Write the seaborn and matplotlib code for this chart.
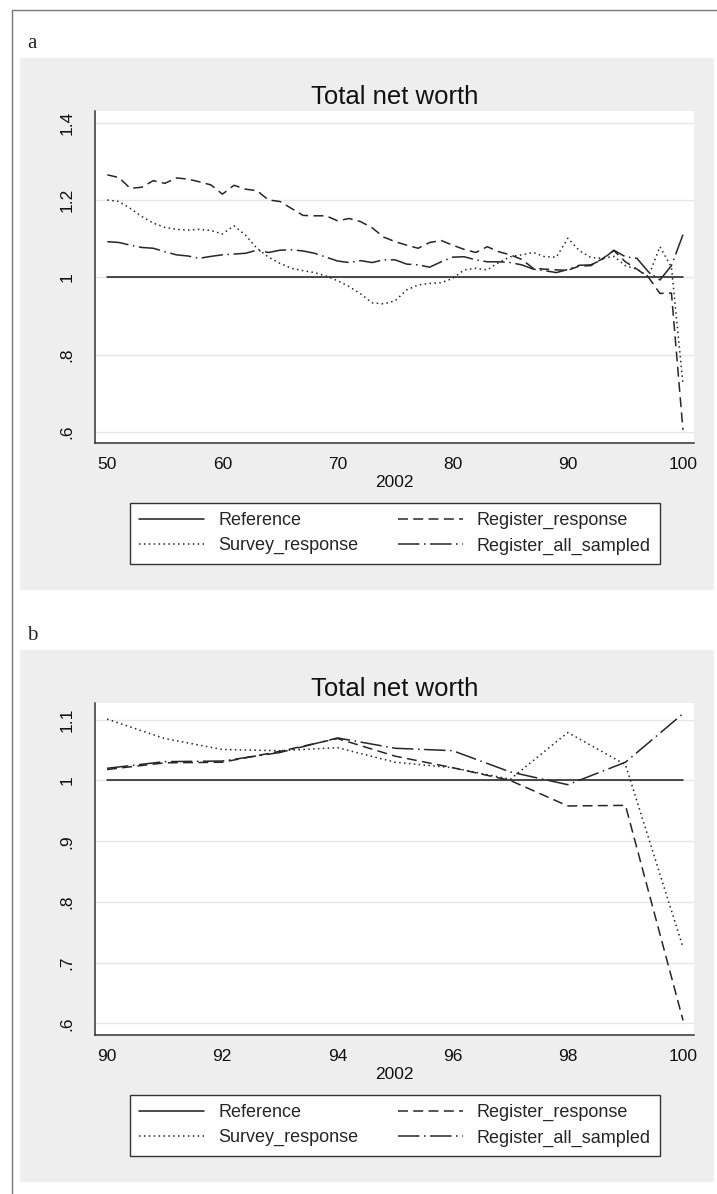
import matplotlib
matplotlib.use("Agg")
import matplotlib.pyplot as plt
from matplotlib.patches import Rectangle
from matplotlib.lines import Line2D
import pandas as pd
import seaborn as sns

# 数据
PERCENTILE = list(range(50, 101))

REGISTER_RESPONSE = [
    1.265, 1.258, 1.230, 1.233, 1.250, 1.243, 1.257, 1.254, 1.247, 1.239,
    1.215, 1.238, 1.228, 1.224, 1.200, 1.196, 1.178, 1.160, 1.159, 1.159,
    1.146, 1.152, 1.144, 1.128, 1.104, 1.092, 1.083, 1.075, 1.090, 1.095,
    1.083, 1.072, 1.064, 1.079, 1.066, 1.058, 1.046, 1.023, 1.021, 1.019,
    1.018, 1.029, 1.030, 1.048, 1.069, 1.040, 1.021, 1.000, 0.958, 0.959,
    0.605,
]
SURVEY_RESPONSE = [
    1.200, 1.196, 1.178, 1.157, 1.140, 1.129, 1.124, 1.122, 1.124, 1.121,
    1.112, 1.133, 1.109, 1.075, 1.052, 1.036, 1.023, 1.017, 1.012, 1.003,
    0.991, 0.976, 0.957, 0.934, 0.931, 0.939, 0.967, 0.980, 0.984, 0.986,
    0.997, 1.019, 1.023, 1.019, 1.038, 1.053, 1.058, 1.064, 1.053, 1.052,
    1.101, 1.069, 1.051, 1.049, 1.054, 1.030, 1.021, 1.002, 1.079, 1.026,
    0.725,
]
REGISTER_ALL_SAMPLED = [
    1.092, 1.090, 1.083, 1.077, 1.075, 1.066, 1.058, 1.055, 1.049, 1.054,
    1.058, 1.060, 1.062, 1.070, 1.064, 1.070, 1.071, 1.068, 1.062, 1.052,
    1.042, 1.038, 1.043, 1.038, 1.045, 1.045, 1.034, 1.032, 1.026, 1.040,
    1.052, 1.053, 1.045, 1.040, 1.040, 1.038, 1.032, 1.021, 1.017, 1.012,
    1.020, 1.031, 1.032, 1.046, 1.070, 1.053, 1.049, 1.014, 0.993, 1.030,
    1.110,
]
REFERENCE = [1.0] * len(PERCENTILE)

SERIES = {
    "Reference": REFERENCE,
    "Survey_response": SURVEY_RESPONSE,
    "Register_response": REGISTER_RESPONSE,
    "Register_all_sampled": REGISTER_ALL_SAMPLED,
}

TITLE = "Total net worth"
XLABEL = "2002"
PANEL_A_XTICKS = [50, 60, 70, 80, 90, 100]
PANEL_A_YTICKS = [0.6, 0.8, 1.0, 1.2, 1.4]
PANEL_B_XTICKS = [90, 92, 94, 96, 98, 100]
PANEL_B_YTICKS = [0.6, 0.7, 0.8, 0.9, 1.0, 1.1]

# 线型
LINE_STYLES = {
    "Reference": "-",
    "Survey_response": (0, (1.0, 2.2)),
    "Register_response": (0, (6.5, 3.5)),
    "Register_all_sampled": (0, (14.0, 3.0, 1.0, 3.0)),
}
LINE_COLORS = {
    "Reference": "#1a1a1a",
    "Survey_response": "#262626",
    "Register_response": "#262626",
    "Register_all_sampled": "#262626",
}

W, H = 717, 1194
PANEL_BG = "#eeeeee"


def fx(px):
    return px / W


def fy(py):
    return 1 - py / H


def stata_fmt(v):
    s = f"{v:g}"
    if s.startswith("0."):
        s = s[1:]
    return s


def long_frame(xmin):
    rows = []
    for name, vals in SERIES.items():
        for p, v in zip(PERCENTILE, vals):
            if p >= xmin:
                rows.append((p, v, name))
    return pd.DataFrame(rows, columns=["percentile", "value", "series"])


def draw_panel(fig, top, letter, xmin, xlim, ylim, xticks, yticks):
    """
    top: 灰色面板顶部像素位置
    """
    # 灰色背景
    fig.add_artist(Rectangle((fx(20), fy(top + 532)), (714 - 20) / W, 532 / H,
                             transform=fig.transFigure, facecolor=PANEL_BG,
                             edgecolor="none", zorder=-5))
    fig.text(fx(27), fy(top - 14), letter, family=["Liberation Serif", "DejaVu Serif"],
             fontsize=15, va="center", ha="left")

    plot_top = top + 52.7
    plot_bot = top + 385
    ax = fig.add_axes([fx(95), fy(plot_bot), (694 - 95) / W, (plot_bot - plot_top) / H])
    ax.set_facecolor("white")

    df = long_frame(xmin)
    for name in SERIES:
        sub = df[df["series"] == name]
        sns.lineplot(data=sub, x="percentile", y="value", ax=ax,
                     color=LINE_COLORS[name], linewidth=1.1,
                     linestyle=LINE_STYLES[name], label=name, legend=False)

    ax.set_xlim(*xlim)
    ax.set_ylim(*ylim)
    ax.set_xticks(xticks)
    ax.set_yticks(yticks)
    ax.set_yticklabels([stata_fmt(v) for v in yticks])
    ax.grid(axis="y", color="#e6e6e6", linewidth=1.0)
    ax.grid(axis="x", visible=False)
    ax.set_axisbelow(True)

    for s in ["top", "right"]:
        ax.spines[s].set_visible(False)
    for s in ["left", "bottom"]:
        ax.spines[s].set_color("#333333")
        ax.spines[s].set_linewidth(1.1)

    ax.tick_params(axis="both", length=5, width=1.0, color="#333333",
                   labelsize=12.5, labelcolor="#111111")
    ax.tick_params(axis="x", pad=5)
    ax.tick_params(axis="y", pad=10, labelrotation=90)
    for lab in ax.get_yticklabels():
        lab.set_va("center")

    ax.set_title(TITLE, fontsize=18.5, pad=5, color="#111111")
    ax.set_xlabel(XLABEL, fontsize=12.5, labelpad=2, color="#111111")
    ax.set_ylabel("")

    handles, labels = ax.get_legend_handles_labels()
    leg_top = plot_bot + 60
    ax.legend(handles, labels, loc="upper left",
              bbox_to_anchor=(fx(130), fy(leg_top + 59), 530 / W, 59 / H),
              bbox_transform=fig.transFigure, mode="expand", ncol=2,
              borderaxespad=0, fontsize=13, handlelength=3.6, handletextpad=0.8,
              borderpad=0.5, labelspacing=0.45, frameon=True, fancybox=False,
              framealpha=1, edgecolor="#333333")
    ax.get_legend().get_frame().set_linewidth(1.0)
    return ax


def main():
    sns.set_style("white")
    plt.rcParams["font.family"] = ["Liberation Sans", "DejaVu Sans"]

    fig = plt.figure(figsize=(W / 100, H / 100), dpi=100)
    fig.patch.set_facecolor("white")

    # 外框
    fig.add_artist(Line2D([fx(12), fx(12)], [fy(10), 0], transform=fig.transFigure,
                          color="#777777", linewidth=1.0))
    fig.add_artist(Line2D([fx(12), 1], [fy(10), fy(10)], transform=fig.transFigure,
                          color="#777777", linewidth=1.0))

    draw_panel(fig, 58, "a", 50, (48.93, 100.96), (0.571, 1.431),
               PANEL_A_XTICKS, PANEL_A_YTICKS)
    draw_panel(fig, 650, "b", 90, (89.79, 100.19), (0.581, 1.128),
               PANEL_B_XTICKS, PANEL_B_YTICKS)

    fig.savefig("out.png", dpi=100)


if __name__ == "__main__":
    main()
